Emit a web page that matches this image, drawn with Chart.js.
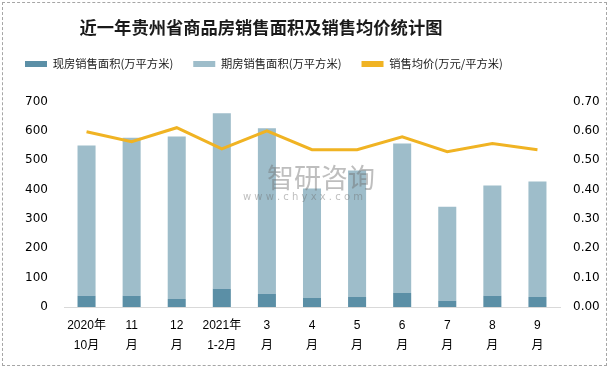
<!DOCTYPE html>
<html>
<head>
<meta charset="utf-8">
<script src="https://cdn.jsdelivr.net/npm/chart.js@4.4.0/dist/chart.umd.min.js"></script>
<style>
  body { margin: 0; background: #fff; }
  #wrap { position: relative; width: 611px; height: 369px; }
  #frame { position: absolute; left: 2px; top: 2px; width: 603px; height: 362px; border: 1px dashed #a6a6a6; pointer-events: none; }
</style>
</head>
<body>
<div id="wrap">
  <canvas id="chart" width="611" height="369"></canvas>
  <div id="frame"></div>
</div>
<script>
// 月份
const categories = [
  ['2020年', '10月'], ['11', '月'], ['12', '月'], ['2021年', '1-2月'], ['3', '月'],
  ['4', '月'], ['5', '月'], ['6', '月'], ['7', '月'], ['8', '月'], ['9', '月']
];
// 现房销售面积 (万平方米)
const xianfang = [38, 38, 27, 62, 45, 31, 34, 48, 21, 38, 34];
// 期房销售面积 (万平方米)
const qifang = [512, 539, 554, 598, 564, 373, 431, 509, 321, 376, 394];
// 销售均价 (万元/平方米)
const avgPrice = [0.597, 0.563, 0.611, 0.539, 0.600, 0.536, 0.536, 0.580, 0.529, 0.557, 0.536];

const areaTicks = [0, 100, 200, 300, 400, 500, 600, 700];
const priceTicks = [0, 0.1, 0.2, 0.3, 0.4, 0.5, 0.6, 0.7];

const numFont = { family: '"DejaVu Sans", sans-serif', size: 12 };
const cjkFont = '"Noto Sans CJK SC", "Liberation Sans", sans-serif';

// 标题整体偏左, 和原图一致
const shiftTitle = {
  id: 'shiftTitle',
  afterLayout(chart) {
    const t = chart.titleBlock;
    if (t) { t.left -= 47; t.right -= 47; }
  }
};

// 水印
const watermark = {
  id: 'watermark',
  afterDatasetsDraw(chart) {
    const { ctx, chartArea: a } = chart;
    const cx = a.left + a.width * 0.518;
    ctx.save();
    ctx.textAlign = 'center';
    ctx.textBaseline = 'middle';
    ctx.fillStyle = 'rgba(110,110,110,0.45)';
    ctx.font = '27px "Noto Sans CJK SC"';
    ctx.fillText('智研咨询', cx, a.top + a.height * 0.37);
    ctx.font = '10px "DejaVu Sans"';
    ctx.fillText('w w w . c h y x x . c o m', cx - 18, a.top + a.height * 0.468);
    ctx.restore();
  }
};

const ctx = document.getElementById('chart').getContext('2d');
const chart = new Chart(ctx, {
  type: 'bar',
  data: {
    labels: categories,
    datasets: [
      {
        label: '现房销售面积(万平方米)',
        data: xianfang,
        backgroundColor: '#5B8FA6',
        xAxisID: 'x', yAxisID: 'y',
        categoryPercentage: 1, barPercentage: 0.4,
        order: 1
      },
      {
        label: '期房销售面积(万平方米)',
        data: qifang,
        backgroundColor: '#9EBDCA',
        xAxisID: 'x', yAxisID: 'y',
        categoryPercentage: 1, barPercentage: 0.4,
        order: 1
      },
      {
        type: 'line',
        label: '销售均价(万元/平方米)',
        data: avgPrice,
        borderColor: '#F0B323',
        backgroundColor: '#F0B323',
        borderWidth: 3,
        pointRadius: 0,
        tension: 0,
        xAxisID: 'x', yAxisID: 'y1',
        order: 0
      }
    ]
  },
  options: {
    responsive: false,
    animation: false,
    layout: { padding: { left: 5, right: 0, top: 0, bottom: 0 } },
    plugins: {
      title: {
        display: true,
        text: '近一年贵州省商品房销售面积及销售均价统计图',
        color: '#1a1a1a',
        font: { family: cjkFont, size: 17.3, weight: 'bold', lineHeight: 1 },
        padding: { top: 19, bottom: 2 }
      },
      legend: {
        position: 'top',
        align: 'start',
        labels: {
          boxWidth: 22,
          boxHeight: 6,
          padding: 20,
          color: '#1a1a1a',
          font: { family: cjkFont, size: 11.3 },
          sort: (a, b) => a.datasetIndex - b.datasetIndex,
          generateLabels(chart) {
            const items = Chart.defaults.plugins.legend.labels.generateLabels(chart);
            items.forEach(it => { it.lineWidth = 0; });
            return items;
          }
        }
      },
      tooltip: { enabled: false }
    },
    scales: {
      x: {
        stacked: true,
        grid: { display: false, drawTicks: false },
        border: { display: true, color: '#d9d9d9', width: 1 },
        ticks: {
          maxRotation: 0, autoSkip: false, padding: 9, color: '#000',
          font: { family: '"Liberation Sans", "Noto Sans CJK SC", sans-serif', size: 12, lineHeight: 1.667 }
        },
        afterFit(s) { s.height = 62; }
      },
      spacer: {
        type: 'category',
        position: 'top',
        grid: { display: false, drawTicks: false },
        border: { display: false },
        ticks: { display: false },
        afterFit(s) { s.height = 22; }
      },
      y: {
        stacked: true,
        position: 'left',
        min: 0, max: 700,
        grid: { display: false, drawTicks: false },
        border: { display: false },
        afterBuildTicks(s) { s.ticks = areaTicks.map(v => ({ value: v })); },
        ticks: { padding: 16, color: '#000', font: numFont },
        afterFit(s) { s.width = 59; }
      },
      y1: {
        position: 'right',
        min: 0, max: 0.7,
        grid: { display: false, drawTicks: false },
        border: { display: false },
        afterBuildTicks(s) { s.ticks = priceTicks.map(v => ({ value: v })); },
        ticks: { padding: 13, color: '#000', font: numFont, callback: v => Number(v).toFixed(2) },
        afterFit(s) { s.width = 51; }
      }
    }
  },
  plugins: [shiftTitle, watermark]
});
</script>
</body>
</html>
